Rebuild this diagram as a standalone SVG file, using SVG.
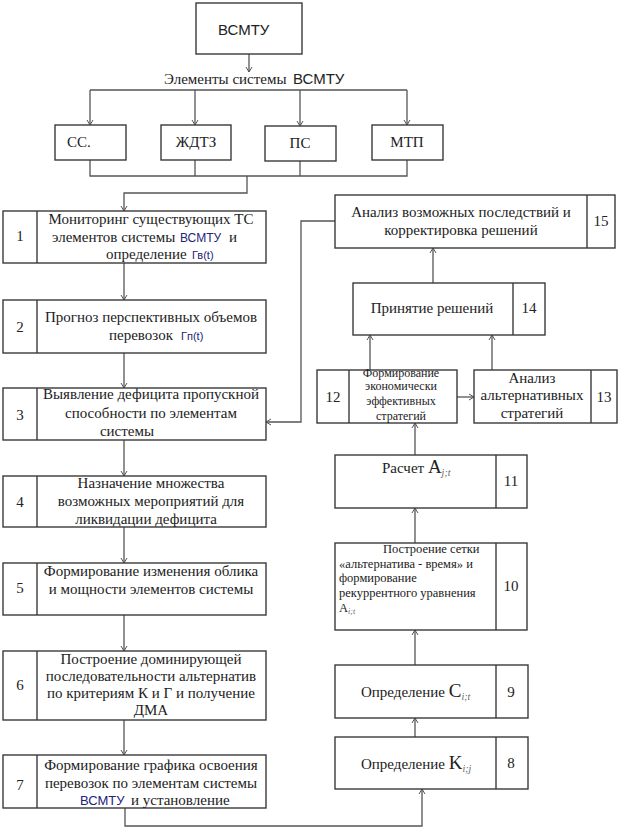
<svg xmlns="http://www.w3.org/2000/svg" width="623" height="837" viewBox="0 0 623 837">
<style>
.b{fill:#fff;stroke:#3a3a3a;stroke-width:1.4}
.d{stroke:#3a3a3a;stroke-width:1.4}
.c{fill:none;stroke:#555;stroke-width:1.3}
.s{font-family:"Liberation Serif","Times New Roman",serif;font-size:15px;fill:#222}
.a{font-family:"Liberation Sans",Arial,sans-serif;fill:#222}
.n{font-family:"Liberation Serif","Times New Roman",serif;font-size:15px;fill:#222;text-anchor:middle}
.m{text-anchor:middle}
.sm{font-size:12px}
.t10{font-size:12.5px}
.sub{font-style:italic;font-size:10px;fill:#666}
</style>
<defs>
<marker id="ar" markerUnits="userSpaceOnUse" markerWidth="8" markerHeight="8" refX="6" refY="4" orient="auto">
<path d="M1,1 L6,4 L1,7" fill="none" stroke="#555" stroke-width="1"/>
</marker>
</defs>

<g id="connectors" class="c">
<path d="M249,54 V72" marker-end="url(#ar)"/>
<path d="M90,90 H407"/>
<path d="M90,90 V125" marker-end="url(#ar)"/>
<path d="M195,90 V125" marker-end="url(#ar)"/>
<path d="M300,90 V126" marker-end="url(#ar)"/>
<path d="M407,90 V125" marker-end="url(#ar)"/>
<path d="M90,160 V176 H407 V160"/>
<path d="M195,160 V176"/>
<path d="M300,161 V176"/>
<path d="M247,176 V193 H124 V211" marker-end="url(#ar)"/>
<path d="M124,263 V300" marker-end="url(#ar)"/>
<path d="M124,353 V388" marker-end="url(#ar)"/>
<path d="M124,440 V476" marker-end="url(#ar)"/>
<path d="M124,527 V563" marker-end="url(#ar)"/>
<path d="M124,615 V651" marker-end="url(#ar)"/>
<path d="M124,720 V755" marker-end="url(#ar)"/>
<path d="M125,808 V826 H422 V789" marker-end="url(#ar)"/>
<path d="M415,737 V718" marker-end="url(#ar)"/>
<path d="M415,665 V630" marker-end="url(#ar)"/>
<path d="M415,543 V508" marker-end="url(#ar)"/>
<path d="M415,455 V423" marker-end="url(#ar)"/>
<path d="M457,397 H474" marker-end="url(#ar)"/>
<path d="M370,370 V335" marker-end="url(#ar)"/>
<path d="M492,370 V335" marker-end="url(#ar)"/>
<path d="M433,283 V248" marker-end="url(#ar)"/>
<path d="M335,221 H301 V422 H266" marker-end="url(#ar)"/>
</g>

<g id="root">
<rect class="b" x="196" y="3" width="106" height="51"/>
<text class="a" x="218" y="35" font-size="15">ВСМТУ</text>
</g>

<g id="elements-label">
<text class="s" x="164" y="84">Элементы системы</text>
<text class="a" x="293" y="84" font-size="15">ВСМТУ</text>
</g>

<g id="cc">
<rect class="b" x="55" y="125" width="71" height="35"/>
<text class="s" x="67" y="147">СС.</text>
</g>
<g id="zhdtz">
<rect class="b" x="161" y="125" width="70" height="35"/>
<text class="s m" x="196" y="147">ЖДТЗ</text>
</g>
<g id="ps">
<rect class="b" x="265" y="126" width="71" height="35"/>
<text class="s m" x="300" y="148">ПС</text>
</g>
<g id="mtp">
<rect class="b" x="372" y="125" width="71" height="35"/>
<text class="s m" x="407" y="147">МТП</text>
</g>

<g id="n1">
<rect class="b" x="3" y="211" width="263" height="52"/>
<line class="d" x1="37" y1="211" x2="37" y2="263"/>
<text class="n" x="20" y="241">1</text>
<text class="s m" x="151" y="224">Мониторинг существующих ТС</text>
<text class="s" x="52" y="242">элементов системы</text>
<text class="a" x="180" y="242" font-size="12" style="fill:#23237a">ВСМТУ</text>
<text class="s" x="229" y="242">и</text>
<text class="s" x="106" y="259">определение</text>
<text class="a" x="192" y="259" font-size="11" style="fill:#23237a">Гв(t)</text>
</g>

<g id="n2">
<rect class="b" x="3" y="300" width="263" height="53"/>
<line class="d" x1="37" y1="300" x2="37" y2="353"/>
<text class="n" x="20" y="332">2</text>
<text class="s m" x="151" y="322">Прогноз перспективных объемов</text>
<text class="s" x="109" y="340">перевозок</text>
<text class="a" x="181" y="340" font-size="11" style="fill:#23237a">Гп(t)</text>
</g>

<g id="n3">
<rect class="b" x="3" y="388" width="263" height="52"/>
<line class="d" x1="37" y1="388" x2="37" y2="440"/>
<text class="n" x="20" y="420">3</text>
<text class="s m" x="151" y="399">Выявление дефицита пропускной</text>
<text class="s m" x="151" y="418">способности по элементам</text>
<text class="s m" x="127" y="436">системы</text>
</g>

<g id="n4">
<rect class="b" x="3" y="476" width="263" height="51"/>
<line class="d" x1="37" y1="476" x2="37" y2="527"/>
<text class="n" x="20" y="507">4</text>
<text class="s m" x="151" y="488">Назначение множества</text>
<text class="s m" x="151" y="506">возможных мероприятий для</text>
<text class="s m" x="146" y="524">ликвидации дефицита</text>
</g>

<g id="n5">
<rect class="b" x="3" y="563" width="263" height="52"/>
<line class="d" x1="37" y1="563" x2="37" y2="615"/>
<text class="n" x="20" y="593">5</text>
<text class="s m" x="151" y="576">Формирование изменения облика</text>
<text class="s m" x="151" y="594">и мощности элементов системы</text>
</g>

<g id="n6">
<rect class="b" x="3" y="651" width="263" height="69"/>
<line class="d" x1="37" y1="651" x2="37" y2="720"/>
<text class="n" x="20" y="690">6</text>
<text class="s m" x="151" y="664">Построение доминирующей</text>
<text class="s m" x="151" y="681">последовательности альтернатив</text>
<text class="s m" x="151" y="698">по критериям К и Г и получение</text>
<text class="s m" x="151" y="715">ДМА</text>
</g>

<g id="n7">
<rect class="b" x="3" y="755" width="263" height="53"/>
<line class="d" x1="37" y1="755" x2="37" y2="808"/>
<text class="n" x="20" y="790">7</text>
<text class="s m" x="151" y="770">Формирование графика освоения</text>
<text class="s m" x="151" y="788">перевозок по элементам системы</text>
<text class="a" x="80" y="805" font-size="13" style="fill:#23237a">ВСМТУ</text>
<text class="s" x="131" y="805">и установление</text>
</g>

<g id="n15">
<rect class="b" x="335" y="195" width="280" height="53"/>
<line class="d" x1="587" y1="195" x2="587" y2="248"/>
<text class="n" x="601" y="226">15</text>
<text class="s m" x="461" y="217">Анализ возможных последствий и</text>
<text class="s m" x="461" y="235">корректировка решений</text>
</g>

<g id="n14">
<rect class="b" x="353" y="283" width="192" height="52"/>
<line class="d" x1="513" y1="283" x2="513" y2="335"/>
<text class="n" x="529" y="313">14</text>
<text class="s m" x="432" y="313">Принятие решений</text>
</g>

<g id="n12">
<rect class="b" x="317" y="370" width="140" height="53"/>
<line class="d" x1="349" y1="370" x2="349" y2="423"/>
<text class="n" x="333" y="402">12</text>
<text class="s m sm" x="401" y="377">Формирование</text>
<text class="s m sm" x="401" y="390">экономически</text>
<text class="s m sm" x="401" y="405">эффективных</text>
<text class="s m sm" x="401" y="420">стратегий</text>
</g>

<g id="n13">
<rect class="b" x="474" y="370" width="143" height="53"/>
<line class="d" x1="591" y1="370" x2="591" y2="423"/>
<text class="n" x="604" y="402">13</text>
<text class="s m" x="532" y="383">Анализ</text>
<text class="s m" x="532" y="400">альтернативных</text>
<text class="s m" x="532" y="418">стратегий</text>
</g>

<g id="n11">
<rect class="b" x="335" y="455" width="192" height="53"/>
<line class="d" x1="496" y1="455" x2="496" y2="508"/>
<text class="n" x="511" y="486">11</text>
<text class="s" x="382" y="473">Расчет <tspan font-size="19">A</tspan><tspan class="sub" dy="3">j;t</tspan></text>
</g>

<g id="n10">
<rect class="b" x="335" y="543" width="192" height="87"/>
<line class="d" x1="496" y1="543" x2="496" y2="630"/>
<text class="n" x="511" y="591">10</text>
<text class="s t10" x="383" y="553">Построение сетки</text>
<text class="s t10" x="339" y="568">«альтернатива - время» и</text>
<text class="s t10" x="339" y="582">формирование</text>
<text class="s t10" x="339" y="597">рекуррентного уравнения</text>
<text class="s t10" x="339" y="612">A<tspan class="sub" style="font-size:8px" dy="2">i;t</tspan></text>
</g>

<g id="n9">
<rect class="b" x="335" y="665" width="193" height="53"/>
<line class="d" x1="496" y1="665" x2="496" y2="718"/>
<text class="n" x="511" y="697">9</text>
<text class="s" x="361" y="697">Определение <tspan font-size="19">C</tspan><tspan class="sub" dy="3">i;t</tspan></text>
</g>

<g id="n8">
<rect class="b" x="335" y="737" width="193" height="52"/>
<line class="d" x1="496" y1="737" x2="496" y2="789"/>
<text class="n" x="511" y="768">8</text>
<text class="s" x="361" y="769">Определение <tspan font-size="19">K</tspan><tspan class="sub" dy="3">i;j</tspan></text>
</g>
</svg>
